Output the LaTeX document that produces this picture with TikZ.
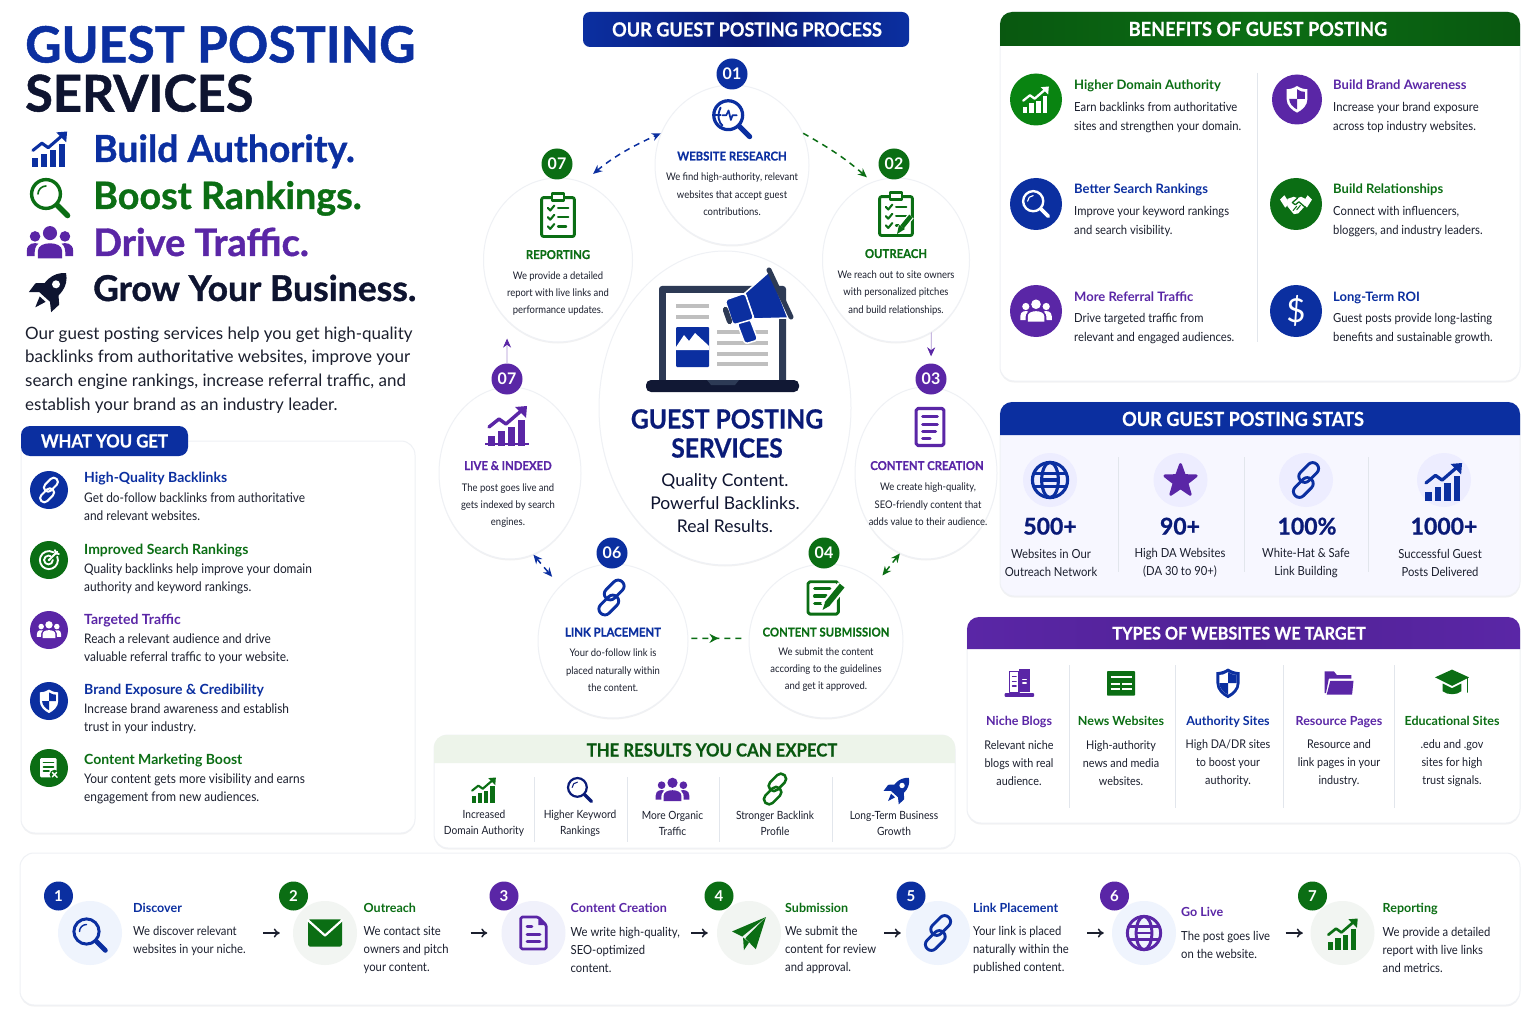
\documentclass[tikz,border=0pt]{standalone}
\usepackage{fontspec}
\setmainfont{Lato}
\newfontfamily\gpnarrow[FakeStretch=0.9]{Lato}
\newfontfamily\gpheavy[BoldFeatures={FakeBold=1}]{Lato}
\newfontfamily\gpbar[FakeStretch=0.93, BoldFeatures={FakeStretch=0.93, FakeBold=0.6}]{Lato}
\usetikzlibrary{arrows.meta, shapes.geometric, decorations.markings, shadows}

\definecolor{gpblue}{HTML}{0B2FA0}
\definecolor{gpnavy}{HTML}{0A1B78}
\definecolor{gpgreen}{HTML}{0B6E14}
\definecolor{gppurple}{HTML}{5A26A6}
\definecolor{gpdark}{HTML}{0E1430}
\definecolor{gptext}{HTML}{1B1F2E}
\definecolor{gpedge}{HTML}{EFF1F5}
\definecolor{gprule}{HTML}{E2E6EC}
\definecolor{gpslate}{HTML}{2D3A55}
\definecolor{gpmint}{HTML}{EDF4EA}
\definecolor{gpdiscblue}{HTML}{EFF4FD}
\definecolor{gpdiscgreen}{HTML}{F2F5F2}
\definecolor{gpdiscpurple}{HTML}{F0F1FB}

\newcommand{\fsz}[2]{\fontsize{#1}{#2}\selectfont}

\tikzset{
    every node/.style = {inner sep = 0pt},
    softshadow/.style = {drop shadow = {shadow xshift = 0pt, shadow yshift = -1.5pt, opacity = 0.05, fill = black}},
    cardbox/.style = {rectangle, draw = gpedge, fill = white, line width = 1pt, rounded corners = 14pt, softshadow},
    bubble/.style = {ellipse, draw = gpedge, fill = white, line width = 1pt, softshadow},
    roundicon/.style = {circle, fill = #1},
    badge/.style = {circle, fill = #1, minimum size = 31pt, text = white, font = \bfseries\fsz{16}{18}},
    headtext/.style = {text = white, font = \gpbar\bfseries\fsz{19.5}{22}, text height = 14pt, text depth = 0pt},
    bubbletitle/.style = {text = #1, font = \gpbar\bfseries\fsz{12.2}{14}, text height = 9pt, text depth = 0pt},
    bubbletext/.style = {text = gptext, font = \gpnarrow\fsz{10.5}{17.4}, align = center, yshift = -0.5pt},
    rowtitle/.style = {anchor = west, text = #1, font = \bfseries\fsz{14}{16}, text height = 10pt, text depth = 0pt},
    rowtext/.style = {anchor = west, text = gptext, font = \gpnarrow\fsz{13.2}{18}, align = left},
    sidetitle/.style = {anchor = west, text = #1, font = \bfseries\fsz{13}{16}, text height = 10pt, text depth = 0pt, yshift = -1pt},
    sidetext/.style = {anchor = west, text = gptext, font = \gpnarrow\fsz{12.5}{19}, align = left, yshift = -1pt},
    statnum/.style = {text = gpnavy, font = \gpheavy\bfseries\fsz{23}{26}, text height = 17pt, text depth = 0pt},
    stattext/.style = {text = gptext, font = \gpnarrow\fsz{12.5}{17.5}, align = center, yshift = -1pt},
    typetitle/.style = {text = #1, font = \bfseries\fsz{12.5}{14}, text height = 9pt, text depth = 0pt},
    typetext/.style = {text = gptext, font = \gpnarrow\fsz{12}{18}, align = center, yshift = -0.5pt},
    resulttext/.style = {text = gptext, font = \gpnarrow\fsz{11.3}{15.5}, align = center, yshift = -1pt},
    steptitle/.style = {anchor = west, text = #1, font = \bfseries\fsz{12.5}{14}, text height = 9pt, text depth = 0pt},
    steptext/.style = {anchor = west, text = gptext, font = \gpnarrow\fsz{12.5}{18}, align = left, yshift = -1pt},
    stepdisc/.style = {circle, fill = #1, minimum size = 64pt},
    stepbadge/.style = {circle, fill = #1, minimum size = 29pt, text = white, font = \bfseries\fsz{15}{17}},
    steparrow/.style = {-{To[length = 6pt, width = 9pt]}, line width = 1.5pt, color = gptext},
    dashline/.style = {line width = 1.5pt, dash pattern = on 6pt off 5pt},
    flowline/.style = {dashline, color = #1, -{Stealth[length = 9pt, width = 8pt]}},
    bothline/.style = {dashline, color = #1, {Stealth[length = 9pt, width = 8pt]}-{Stealth[length = 9pt, width = 8pt]}},
    thinflow/.style = {color = gppurple!50, line width = 0.7pt, -{Stealth[length = 9pt, width = 8pt, color = gppurple]}},
    icon/.style n args = {4}{shift = {(#1, #2)}, x = #3pt, y = -#3pt, color = #4, line cap = round, line join = round, line width = #3*1.7pt},
    rulerline/.style = {color = gprule, line width = 0.8pt}
}

% icons: x, y, size, colour
\newcommand{\iconchart}[4]{
    \begin{scope}[icon = {#1}{#2}{#3}{#4}]
        \fill (-10, 5) rectangle (-6.5, 10);
        \fill (-5, 2.5) rectangle (-1.5, 10);
        \fill (0, 0.5) rectangle (3.5, 10);
        \fill (5, -3) rectangle (8.5, 10);
        \draw (-9.5, 0.5) -- (-4.5, -3.5) -- (-1, -1) -- (6.5, -7.5);
        \fill (9.5, -10) -- (3.5, -9.5) -- (9, -4) -- cycle;
    \end{scope}
}
\newcommand{\iconsearch}[4]{
    \begin{scope}[icon = {#1}{#2}{#3}{#4}]
        \draw (-2, -2) circle (7.2);
        \draw[line width = #3*2.7pt] (3.6, 3.6) -- (8.8, 8.8);
        \draw[line width = #3*0.8pt] (-6, -2) arc (180:270:4);
    \end{scope}
}
\newcommand{\iconpeople}[4]{
    \begin{scope}[icon = {#1}{#2}{#3}{#4}]
        \fill (0, -4.5) circle (3.2);
        \fill (-6.8, -3) circle (2.4);
        \fill (6.8, -3) circle (2.4);
        \fill (-5.5, 7) -- (-5.5, 3.5) .. controls (-5.5, -1) and (5.5, -1) .. (5.5, 3.5) -- (5.5, 7) -- cycle;
        \fill (-10.5, 6) -- (-10.5, 3.5) .. controls (-10.5, 0) and (-7, -0.3) .. (-5.3, 0.3) .. controls (-6.8, 1.5) and (-7, 3) .. (-7, 6) -- cycle;
        \fill (10.5, 6) -- (10.5, 3.5) .. controls (10.5, 0) and (7, -0.3) .. (5.3, 0.3) .. controls (6.8, 1.5) and (7, 3) .. (7, 6) -- cycle;
    \end{scope}
}
\newcommand{\iconrocket}[5]{
    \begin{scope}[icon = {#1}{#2}{#3}{#4}, rotate = -42]
        \fill (0, -12) .. controls (5.5, -8) and (5.5, -1) .. (3.4, 4) -- (-3.4, 4) .. controls (-5.5, -1) and (-5.5, -8) .. (0, -12) -- cycle;
        \fill (-3.8, -2) -- (-8, 2) -- (-7.5, 7.5) -- (-3, 3.5) -- cycle;
        \fill (3.8, -2) -- (8, 2) -- (7.5, 7.5) -- (3, 3.5) -- cycle;
        \fill (-2, 5.5) -- (2, 5.5) -- (0, 11) -- cycle;
        \fill[#5] (0, -4.5) circle (2);
    \end{scope}
}
\newcommand{\iconlink}[4]{
    \begin{scope}[icon = {#1}{#2}{#3}{#4}, rotate = 45]
        \draw[rounded corners = #3*3.4pt] (-11, -1.5) rectangle (2.5, 5.5);
        \draw[rounded corners = #3*3.4pt] (-2.5, -5.5) rectangle (11, 1.5);
    \end{scope}
}
\newcommand{\iconshield}[6]{
    \begin{scope}[icon = {#1}{#2}{#3}{#4}]
        \fill (0, -10) .. controls (3, -8) and (6, -7.5) .. (8, -7.5) -- (8, 0) .. controls (8, 5) and (4, 8.5) .. (0, 10.5) .. controls (-4, 8.5) and (-8, 5) .. (-8, 0) -- (-8, -7.5) .. controls (-6, -7.5) and (-3, -8) .. (0, -10) -- cycle;
        \fill[#5] (0, -7.5) .. controls (2, -6) and (4, -5.5) .. (6, -5.5) -- (6, 0) .. controls (6, 3.5) and (3, 6.5) .. (0, 8) .. controls (-3, 6.5) and (-6, 3.5) .. (-6, 0) -- (-6, -5.5) .. controls (-4, -5.5) and (-2, -6) .. (0, -7.5) -- cycle;
        \fill[#6] (0, -7.5) .. controls (2, -6) and (4, -5.5) .. (6, -5.5) -- (6, 0) -- (0, 0) -- cycle;
        \fill[#6] (0, 0) -- (-6, 0) .. controls (-6, 3.5) and (-3, 6.5) .. (0, 8) -- cycle;
    \end{scope}
}
\newcommand{\iconpage}[4]{
    \begin{scope}[icon = {#1}{#2}{#3}{#4}]
        \draw[rounded corners = #3*1pt] (-7.5, -10) rectangle (7.5, 10);
        \draw (-4, -5.5) -- (4, -5.5);
        \draw (-4, -1.5) -- (4, -1.5);
        \draw (-4, 2.5) -- (3, 2.5);
        \draw (-4, 6) -- (0, 6);
    \end{scope}
}
\newcommand{\iconfold}[4]{
    \begin{scope}[icon = {#1}{#2}{#3}{#4}]
        \draw[rounded corners = #3*1pt] (-8, -10) -- (3, -10) -- (8, -5) -- (8, 10) -- (-8, 10) -- cycle;
        \fill (3, -10) -- (8, -5) -- (3, -5) -- cycle;
        \draw (-4, -4) -- (-1, -4);
        \draw[line width = #3*2pt] (-4, 1) -- (4, 1);
        \draw[line width = #3*2pt] (-4, 5.5) -- (4, 5.5);
    \end{scope}
}
\newcommand{\iconglobe}[4]{
    \begin{scope}[icon = {#1}{#2}{#3}{#4}]
        \draw (0, 0) circle (9.5);
        \draw (0, 0) ellipse (4.5 and 9.5);
        \draw (-8.5, -3.7) -- (8.5, -3.7);
        \draw (-8.5, 3.7) -- (8.5, 3.7);
        \draw (-4.2, 0) -- (4.2, 0);
    \end{scope}
}
\newcommand{\iconstar}[4]{
    \begin{scope}[icon = {#1}{#2}{#3}{#4}]
        \filldraw (0, -10) -- (2.4, -3.3) -- (9.5, -3.1) -- (3.9, 1.3) -- (5.9, 8.1) -- (0, 4.1) -- (-5.9, 8.1) -- (-3.9, 1.3) -- (-9.5, -3.1) -- (-2.4, -3.3) -- cycle;
    \end{scope}
}
\newcommand{\iconclip}[4]{
    \begin{scope}[icon = {#1}{#2}{#3}{#4}]
        \draw[rounded corners = #3*1pt, line width = #3*1.4pt] (-8, -8.5) rectangle (8, 10.5);
        \filldraw[fill = white, line width = #3*1.2pt] (-3, -10.5) rectangle (3, -7);
        \draw[line width = #3*1pt] (-5, -3.5) -- (-3.8, -2.2) -- (-1.8, -4.6);
        \draw[line width = #3*1pt] (-5, 1) -- (-3.8, 2.3) -- (-1.8, -0.1);
        \draw[line width = #3*1pt] (-5, 5.5) -- (-3.8, 6.8) -- (-1.8, 4.4);
        \draw[line width = #3*1pt] (0, -3.4) -- (5, -3.4);
        \draw[line width = #3*1pt] (0, 1.1) -- (5, 1.1);
        \draw[line width = #3*1pt] (0, 5.6) -- (4, 5.6);
    \end{scope}
}
\newcommand{\iconedit}[4]{
    \begin{scope}[icon = {#1}{#2}{#3}{#4}]
        \draw[rounded corners = #3*1pt, line width = #3*1.5pt] (-9.5, -8) rectangle (6.5, 9);
        \draw (-6, -4.5) -- (2, -4.5);
        \draw (-6, -0.5) -- (0, -0.5);
        \draw (-6, 3.5) -- (-2.5, 3.5);
        \draw[white, line width = #3*5.5pt, line cap = butt] (-0.5, 5) -- (8.5, -6);
        \draw[line width = #3*3.2pt, line cap = butt] (0.5, 3.8) -- (8.5, -6);
        \fill (-1.8, 6.8) -- (-0.4, 2.6) -- (2, 4.6) -- cycle;
    \end{scope}
}
\newcommand{\iconresearch}[4]{
    \begin{scope}[icon = {#1}{#2}{#3}{#4}]
        \draw (-2, -2) circle (7.6);
        \draw[line width = #3*2.7pt] (4, 4) -- (9.3, 9.3);
        \draw[line width = #3*1pt] (-6, -6) .. controls (-8, -2) and (-7, 2) .. (-5, 3.5);
        \draw[line width = #3*1pt] (-9, -2) -- (-6, -2);
        \draw[line width = #3*0.9pt] (-5, -2) -- (-3, -2) -- (-1.8, -4.5) -- (-0.6, 0.5) -- (0.3, -2) -- (2.5, -2);
    \end{scope}
}
\newcommand{\iconmail}[5]{
    \begin{scope}[icon = {#1}{#2}{#3}{#4}]
        \fill[rounded corners = #3*1pt] (-10, -8) rectangle (10, 8);
        \draw[#5, line width = #3*1.3pt] (-10, -7.5) -- (0, 1.5) -- (10, -7.5);
    \end{scope}
}
\newcommand{\iconplane}[4]{
    \begin{scope}[icon = {#1}{#2}{#3}{#4}]
        \fill (10, -10) -- (-10, -1.5) -- (-4, 1.5) -- cycle;
        \fill (10, -10) -- (-2.2, 2.5) -- (4, 9) -- cycle;
        \fill (-3.5, 2) -- (-3, 9.5) -- (0, 5) -- cycle;
    \end{scope}
}
\newcommand{\icontarget}[4]{
    \begin{scope}[icon = {#1}{#2}{#3}{#4}]
        \draw (7.5, -3) arc (338:660:8.2);
        \draw (3.5, 0) arc (0:300:4);
        \fill (0, 0) circle (1.2);
        \draw (0, 0) -- (7.5, -7.5);
        \draw (5.5, -9) -- (6, -6) -- (9, -5.5);
    \end{scope}
}
\newcommand{\icondocmark}[5]{
    \begin{scope}[icon = {#1}{#2}{#3}{#4}]
        \fill[rounded corners = #3*1pt] (-8, -9) rectangle (7, 8.5);
        \draw[#5] (-5, -5) -- (4, -5);
        \draw[#5] (-5, -1) -- (4, -1);
        \draw[#5] (-5, 3) -- (0, 3);
        \fill[#5] (5, 6) circle (4.4);
        \draw[line width = #3*1.2pt] (3, 4) -- (7.5, 8.5);
        \draw[line width = #3*1.2pt] (7, 4) -- (3, 8);
    \end{scope}
}
\newcommand{\iconshake}[5]{
    \begin{scope}[icon = {#1}{#2}{#3}{#4}]
        \fill (-11, -3) -- (-8, -6) -- (-4.5, -0.5) -- (-7.5, 2.5) -- cycle;
        \fill (11, -3) -- (8, -6) -- (4.5, -0.5) -- (7.5, 2.5) -- cycle;
        \fill (-6, -3.5) -- (-1.5, -5) -- (1, -4) -- (3.5, -5) -- (6.5, -3.5) -- (7, 0.5) -- (1.5, 6.5) -- (-1.5, 7) -- (-6, 1.5) -- cycle;
        \draw[#5, line width = #3*0.9pt] (1, -4) -- (-2.5, -1) -- (-0.5, 0.5) -- (2, -1.5) -- (6, 2);
        \draw[#5, line width = #3*0.7pt] (3, 1) -- (0.5, 4);
        \draw[#5, line width = #3*0.7pt] (0.5, 1.5) -- (-2, 4.5);
    \end{scope}
}
\newcommand{\iconbook}[4]{
    \begin{scope}[icon = {#1}{#2}{#3}{#4}]
        \fill[rounded corners = #3*0.6pt] (-10, 7) rectangle (10.5, 9.5);
        \draw[line width = #3*1.1pt] (-6.5, -8) rectangle (0, 6.5);
        \fill (0, -9.5) rectangle (7.5, 6.5);
        \draw[line width = #3*1pt] (-4.5, -4.5) -- (-2, -4.5);
        \draw[line width = #3*1pt] (-4.5, -1.2) -- (-2, -1.2);
        \draw[line width = #3*1pt] (-4.5, 2) -- (-2, 2);
        \draw[white, line width = #3*0.7pt] (2.5, -2.5) -- (5, -2.5);
        \draw[white, line width = #3*0.7pt] (2.5, 0) -- (5, 0);
    \end{scope}
}
\newcommand{\iconnews}[4]{
    \begin{scope}[icon = {#1}{#2}{#3}{#4}]
        \fill[rounded corners = #3*0.6pt] (-10, -8.5) rectangle (10, 9);
        \draw[white, line width = #3*1.3pt, line cap = butt] (-7.5, -4.5) -- (7.5, -4.5);
        \draw[white, line width = #3*1.3pt, line cap = butt] (-7.5, 0.5) -- (-1, 0.5);
        \draw[white, line width = #3*1.3pt, line cap = butt] (-7.5, 4.5) -- (-1, 4.5);
        \draw[white, line width = #3*1.3pt, line cap = butt] (1, 0.5) -- (7.5, 0.5);
        \draw[white, line width = #3*1.3pt, line cap = butt] (1, 4.5) -- (7.5, 4.5);
    \end{scope}
}
\newcommand{\iconfolder}[4]{
    \begin{scope}[icon = {#1}{#2}{#3}{#4}]
        \fill (-10, 7) -- (-10, -8) -- (-3.5, -8) -- (-1.5, -5.5) -- (8.5, -5.5) -- (8.5, -3) -- (-7, -3) -- (-9, 7) -- cycle;
        \fill (-6, -1.5) -- (10, -1.5) -- (9, 8) -- (-8.5, 8) -- cycle;
    \end{scope}
}
\newcommand{\icongrad}[4]{
    \begin{scope}[icon = {#1}{#2}{#3}{#4}]
        \fill (-11, -3) -- (0, -8) -- (11, -3) -- (0, 2.5) -- cycle;
        \fill (-6, 1) -- (0, 4) -- (6, 1) -- (6, 6) .. controls (3, 8.5) and (-3, 8.5) .. (-6, 6) -- cycle;
        \draw[line width = #3*0.9pt] (10, -2.5) -- (10, 6.5);
    \end{scope}
}

\begin{document}
\begin{tikzpicture}[x = 1pt, y = -1pt]
    \useasboundingbox (0, 0) rectangle (1536, 1024);
    \fill[white] (0, 0) rectangle (1536, 1024);

    % title column
    \node (maintitle) [anchor = base west, text = gpblue, font = \gpheavy\bfseries\fsz{50}{52}] at (25, 62.5) {GUEST POSTING};
    \node (subtitle) [anchor = base west, text = gpdark, font = \gpheavy\bfseries\fsz{50.5}{52}] at (25, 111.5) {SERVICES};
    \iconchart{50}{149.5}{1.8}{gpblue}
    \iconsearch{50}{198}{2}{gpgreen}
    \iconpeople{50}{243}{2.2}{gppurple}
    \iconrocket{50}{291}{2}{gpdark}{white}
    \node (taga) [anchor = base west, text = gpblue, font = \gpheavy\bfseries\fsz{37.3}{40}] at (93, 162) {Build Authority.};
    \node (tagb) [anchor = base west, text = gpgreen, font = \gpheavy\bfseries\fsz{37.7}{40}] at (93, 209) {Boost Rankings.};
    \node (tagc) [anchor = base west, text = gppurple, font = \gpheavy\bfseries\fsz{38}{40}] at (93, 256) {Drive Traffic.};
    \node (tagd) [anchor = base west, text = gpdark, font = \gpheavy\bfseries\fsz{35.5}{40}] at (93, 301) {Grow Your Business.};
    \node (intro) [anchor = west, align = left, text = gptext, font = \fsz{17}{23.7}] at (25, 370) {Our guest posting services help you get high-quality\\backlinks from authoritative websites, improve your\\search engine rankings, increase referral traffic, and\\establish your brand as an industry leader.};

    % what you get
    \node (getcard) [cardbox, minimum width = 394pt, minimum height = 392pt] at (218, 637) {};
    \node (getpill) [rectangle, rounded corners = 9pt, fill = gpblue, minimum width = 167pt, minimum height = 30pt, text = white, font = \gpbar\bfseries\fsz{18}{20}] at (104.5, 441) {WHAT YOU GET};

    \node (geta) [roundicon = gpblue, minimum size = 38pt] at (49, 490) {};
    \iconlink{49}{490}{1.2}{white}
    \node (getatitle) [rowtitle = gpblue] at (84, 477) {High-Quality Backlinks};
    \node (getatext) [rowtext] at (84, 506.5) {Get do-follow backlinks from authoritative\\and relevant websites.};

    \node (getb) [roundicon = gpgreen, minimum size = 38pt] at (49, 560) {};
    \icontarget{49}{560}{1.1}{white}
    \node (getbtitle) [rowtitle = gpgreen] at (84, 549) {Improved Search Rankings};
    \node (getbtext) [rowtext] at (84, 578.5) {Quality backlinks help improve your domain\\authority and keyword rankings.};

    \node (getc) [roundicon = gppurple, minimum size = 38pt] at (49, 630) {};
    \iconpeople{49}{630}{1.15}{white}
    \node (getctitle) [rowtitle = gppurple] at (84, 619) {Targeted Traffic};
    \node (getctext) [rowtext] at (84, 648.5) {Reach a relevant audience and drive\\valuable referral traffic to your website.};

    \node (getd) [roundicon = gpblue, minimum size = 38pt] at (49, 701) {};
    \iconshield{49}{701}{1.15}{white}{white}{gpblue}
    \node (getdtitle) [rowtitle = gpblue] at (84, 689) {Brand Exposure \& Credibility};
    \node (getdtext) [rowtext] at (84, 718.5) {Increase brand awareness and establish\\trust in your industry.};

    \node (gete) [roundicon = gpgreen, minimum size = 38pt] at (49, 768) {};
    \icondocmark{49}{768}{1.1}{white}{gpgreen}
    \node (getetitle) [rowtitle = gpgreen] at (84, 759) {Content Marketing Boost};
    \node (getetext) [rowtext] at (84, 788.5) {Your content gets more visibility and earns\\engagement from new audiences.};

    % process
    \shade[left color = gpblue, right color = gpblue, middle color = gpnavy, rounded corners = 7pt] (583, 12) rectangle (909, 47);
    \node (processhead) [headtext] at (747, 29.5) {OUR GUEST POSTING PROCESS};

    \node (hub) [bubble, minimum width = 252pt, minimum height = 314pt] at (725, 408) {};
    \node (research) [bubble, minimum width = 154pt, minimum height = 160pt] at (732, 165) {};
    \node (reporting) [bubble, minimum width = 149pt, minimum height = 164pt] at (558, 260) {};
    \node (outreach) [bubble, minimum width = 147pt, minimum height = 164pt] at (896, 260) {};
    \node (indexed) [bubble, minimum width = 142pt, minimum height = 172pt] at (510, 473) {};
    \node (creation) [bubble, minimum width = 142pt, minimum height = 172pt] at (926, 473) {};
    \node (placement) [bubble, minimum width = 150pt, minimum height = 154pt] at (613, 641) {};
    \node (submission) [bubble, minimum width = 154pt, minimum height = 154pt] at (826, 641) {};

    % laptop and megaphone
    \fill[gpslate, rounded corners = 3pt] (659, 286) rectangle (786, 384);
    \fill[white] (666, 293) rectangle (779, 380);
    \fill[gpdark!90!gpslate, rounded corners = 5pt] (646, 380) rectangle (799, 392);
    \fill[gpslate] (707, 380) -- (739, 380) -- (735, 385) -- (711, 385) -- cycle;
    \fill[black!25] (676, 304) rectangle (709, 308);
    \fill[black!25] (676, 315) rectangle (709, 319);
    \fill[gpblue, rounded corners = 1pt] (676, 327) rectangle (709, 367);
    \fill[white] (676, 350) -- (676, 347) -- (684, 335) -- (689, 341) -- (695, 333) -- (709, 346) -- (709, 350) -- cycle;
    \fill[black!25] (717, 330) rectangle (768, 334);
    \fill[black!25] (717, 341) rectangle (768, 345);
    \fill[black!25] (717, 352) rectangle (768, 356);
    \fill[black!25] (717, 362) rectangle (768, 366);
    \filldraw[fill = gpblue, draw = white, line width = 1.5pt, rounded corners = 3pt] (737, 323) -- (750, 319) -- (758, 340) -- (745, 344) -- cycle;
    \filldraw[fill = gpblue, draw = white, line width = 1.5pt] (745, 293) -- (770, 271) -- (788, 318) -- (754, 319) -- cycle;
    \filldraw[fill = gpblue, draw = white, line width = 1.5pt, rounded corners = 3pt] (725, 300) -- (745, 293) -- (754, 319) -- (733, 325) -- cycle;
    \fill[gpslate, rounded corners = 3pt] (722, 308) -- (727, 306) -- (733, 323) -- (728, 325) -- cycle;
    \draw[gpslate, line width = 5pt, line cap = round] (769, 270) -- (791, 317);

    \node (hubtitle) [text = gpnavy, align = center, font = \gpbar\bfseries\fsz{26.5}{29}] at (727, 433.5) {GUEST POSTING\\SERVICES};
    \node (hubtext) [text = gpdark, align = center, font = \fsz{17.5}{23}] at (725, 503) {Quality Content.\\Powerful Backlinks.\\Real Results.};

    \iconresearch{732}{119}{1.9}{gpblue}
    \node (researchtitle) [bubbletitle = gpblue] at (732, 156) {WEBSITE RESEARCH};
    \node (researchtext) [bubbletext] at (732, 194) {We find high-authority, relevant\\websites that accept guest\\contributions.};

    \iconclip{558}{215}{2.05}{gpgreen}
    \node (reportingtitle) [bubbletitle = gpgreen] at (558, 254.5) {REPORTING};
    \node (reportingtext) [bubbletext] at (558, 293) {We provide a detailed\\report with live links and\\performance updates.};

    \iconclip{896}{214}{2.05}{gpgreen}
    \draw[white, line width = 7pt] (900, 229) -- (911, 216);
    \draw[gpgreen, line width = 4.5pt] (902, 227) -- (911, 216);
    \fill[gpgreen] (897, 234) -- (899, 225) -- (905, 229) -- cycle;
    \node (outreachtitle) [bubbletitle = gpgreen] at (896, 253.5) {OUTREACH};
    \node (outreachtext) [bubbletext] at (896, 292.5) {We reach out to site owners\\with personalized pitches\\and build relationships.};

    \iconchart{508}{426}{2}{gppurple}
    \fill[gppurple] (485, 443) rectangle (529, 445);
    \node (indexedtitle) [bubbletitle = gppurple] at (508, 465.5) {LIVE \& INDEXED};
    \node (indexedtext) [bubbletext] at (508, 505) {The post goes live and\\gets indexed by search\\engines.};

    \iconpage{930}{427}{1.85}{gppurple}
    \node (creationtitle) [bubbletitle = gppurple] at (927, 465.5) {CONTENT CREATION};
    \node (creationtext) [bubbletext] at (928, 504) {We create high-quality,\\SEO-friendly content that\\adds value to their audience.};

    \iconlink{611.5}{597.5}{1.7}{gpblue}
    \node (placementtitle) [bubbletitle = gpblue] at (613, 632) {LINK PLACEMENT};
    \node (placementtext) [bubbletext] at (613, 670) {Your do-follow link is\\placed naturally within\\the content.};

    \iconedit{826}{597}{1.9}{gpgreen}
    \node (submissiontitle) [bubbletitle = gpgreen] at (826, 632) {CONTENT SUBMISSION};
    \node (submissiontext) [bubbletext] at (826, 669) {We submit the content\\according to the guidelines\\and get it approved.};

    \node (badgea) [badge = gpblue] at (732, 74) {01};
    \node (badgeb) [badge = gpgreen] at (894, 164) {02};
    \node (badgec) [badge = gppurple] at (931, 379) {03};
    \node (badged) [badge = gpgreen] at (824, 553) {04};
    \node (badgef) [badge = gpblue] at (612, 553) {06};
    \node (badgeg) [badge = gppurple] at (507, 379) {07};
    \node (badgeh) [badge = gpgreen] at (557, 164) {07};

    \draw[bothline = gpblue, shorten < = 13pt] (reporting.72) to[bend left = 8] (research.156);
    \draw[flowline = gpgreen, shorten > = 7pt] (research.24) to[bend left = 6] (outreach.107);
    \draw[thinflow, shorten > = 18pt] (badgeg.north) -- (reporting.230);
    \draw[thinflow, shorten > = 7pt] (outreach.296) -- (badgec.north);
    \draw[bothline = gpblue, shorten > = 12pt] (indexed.286) -- (placement.134);
    \draw[bothline = gpgreen, shorten > = 9pt] (creation.252) -- (submission.49);
    \draw[dashline, gpgreen, shorten < = 3pt, shorten > = 3pt, postaction = {decorate}, decoration = {markings, mark = at position 0.5 with {\arrow{Stealth[length = 9pt, width = 9pt]}}}] (placement.2) -- (submission.178);

    % results
    \node (resultcard) [cardbox, minimum width = 521pt, minimum height = 113pt] at (694.5, 791.5) {};
    \fill[gpmint] (434, 763) -- (434, 747) arc (180:270:12) -- (943, 735) arc (270:360:12) -- (955, 763) -- cycle;
    \node (resulthead) [text = gpgreen!80!black, font = \gpbar\bfseries\fsz{18}{20}, text height = 13pt, text depth = 0pt] at (712, 750) {THE RESULTS YOU CAN EXPECT};
    \draw[rulerline] (534, 777) -- (534, 842);
    \draw[rulerline] (627, 777) -- (627, 842);
    \draw[rulerline] (719, 777) -- (719, 842);
    \draw[rulerline] (832, 777) -- (832, 842);
    \iconchart{484}{790}{1.25}{gpgreen}
    \iconsearch{580}{790}{1.3}{gpnavy}
    \iconpeople{672.5}{790}{1.6}{gppurple}
    \iconlink{775}{789}{1.5}{gpgreen}
    \iconrocket{898}{790}{1.35}{gpblue}{white}
    \node (resulta) [resulttext] at (484, 822.5) {Increased\\Domain Authority};
    \node (resultb) [resulttext] at (580, 822.5) {Higher Keyword\\Rankings};
    \node (resultc) [resulttext] at (672.5, 822.5) {More Organic\\Traffic};
    \node (resultd) [resulttext] at (775, 822.5) {Stronger Backlink\\Profile};
    \node (resulte) [resulttext] at (894, 822.5) {Long-Term Business\\Growth};

    % benefits
    \node (benefitcard) [cardbox, minimum width = 520pt, minimum height = 369pt] at (1260, 196.5) {};
    \shade[left color = gpgreen!80!black, right color = gpgreen!80!black, middle color = gpgreen] (1000, 46) -- (1000, 24) arc (180:270:12) -- (1508, 12) arc (270:360:12) -- (1520, 46) -- cycle;
    \node (benefithead) [headtext] at (1258, 29) {BENEFITS OF GUEST POSTING};
    \draw[rulerline] (1257, 73) -- (1257, 342);

    \node (benefita) [roundicon = gpgreen!85!green, minimum size = 52pt] at (1036, 99.5) {};
    \iconchart{1036}{100}{1.35}{white}
    \node (benefitatitle) [sidetitle = gpgreen] at (1074, 84) {Higher Domain Authority};
    \node (benefitatext) [sidetext] at (1074, 116.5) {Earn backlinks from authoritative\\sites and strengthen your domain.};

    \node (benefitb) [roundicon = gpblue, minimum size = 52pt] at (1036, 204) {};
    \iconsearch{1036}{204}{1.4}{white}
    \node (benefitbtitle) [sidetitle = gpblue] at (1074, 188) {Better Search Rankings};
    \node (benefitbtext) [sidetext] at (1074, 220.5) {Improve your keyword rankings\\and search visibility.};

    \node (benefitc) [roundicon = gppurple, minimum size = 52pt] at (1036, 311) {};
    \iconpeople{1036}{311}{1.5}{white}
    \node (benefitctitle) [sidetitle = gppurple] at (1074, 295.5) {More Referral Traffic};
    \node (benefitctext) [sidetext] at (1074, 327.5) {Drive targeted traffic from\\relevant and engaged audiences.};

    \node (benefitd) [roundicon = gppurple, minimum size = 50pt] at (1297, 99.5) {};
    \iconshield{1297}{99}{1.3}{white}{white}{gppurple}
    \node (benefitdtitle) [sidetitle = gppurple] at (1333, 84) {Build Brand Awareness};
    \node (benefitdtext) [sidetext] at (1333, 116.5) {Increase your brand exposure\\across top industry websites.};

    \node (benefite) [roundicon = gpgreen, minimum size = 52pt] at (1296, 204) {};
    \iconshake{1296}{204}{1.45}{white}{gpgreen}
    \node (benefitetitle) [sidetitle = gpgreen] at (1333, 188) {Build Relationships};
    \node (benefitetext) [sidetext] at (1333, 220.5) {Connect with influencers,\\bloggers, and industry leaders.};

    \node (benefitf) [roundicon = gpblue, minimum size = 52pt, text = white, font = \fsz{33}{35}] at (1296, 311) {\$};
    \node (benefitftitle) [sidetitle = gpblue] at (1333, 295.5) {Long-Term ROI};
    \node (benefitftext) [sidetext] at (1333, 328) {Guest posts provide long-lasting\\benefits and sustainable growth.};

    % stats
    \node (statcard) [cardbox, fill = blue!3, minimum width = 520pt, minimum height = 194pt] at (1260, 499) {};
    \fill[gpblue] (1000, 435) -- (1000, 414) arc (180:270:12) -- (1508, 402) arc (270:360:12) -- (1520, 435) -- cycle;
    \node (stathead) [headtext] at (1243, 419) {OUR GUEST POSTING STATS};
    \draw[rulerline] (1118, 457) -- (1118, 572);
    \draw[rulerline] (1244, 457) -- (1244, 572);
    \draw[rulerline] (1368, 457) -- (1368, 572);
    \node (statdisca) [circle, fill = blue!7, minimum size = 54pt] at (1050, 480) {};
    \node (statdiscb) [circle, fill = blue!7, minimum size = 54pt] at (1180.5, 480) {};
    \node (statdiscc) [circle, fill = blue!7, minimum size = 54pt] at (1306, 480) {};
    \node (statdiscd) [circle, fill = blue!7, minimum size = 54pt] at (1444, 480) {};
    \iconglobe{1050}{480}{1.85}{gpblue}
    \iconstar{1180.5}{481}{1.65}{gppurple}
    \iconlink{1306}{480}{1.7}{gpblue}
    \iconchart{1444}{482}{1.9}{gpblue}
    \node (statnuma) [statnum] at (1050, 526) {500+};
    \node (statnumb) [statnum] at (1180, 526) {90+};
    \node (statnumc) [statnum] at (1307, 526) {100\%};
    \node (statnumd) [statnum] at (1444, 526) {1000+};
    \node (stattexta) [stattext] at (1051, 562) {Websites in Our\\Outreach Network};
    \node (stattextb) [stattext] at (1180, 562) {High DA Websites\\(DA 30 to 90+)};
    \node (stattextc) [stattext] at (1306, 562) {White-Hat \& Safe\\Link Building};
    \node (stattextd) [stattext] at (1440, 562) {Successful Guest\\Posts Delivered};

    % types
    \node (typecard) [cardbox, minimum width = 553pt, minimum height = 206pt] at (1243.5, 720) {};
    \shade[left color = gppurple, right color = gppurple, middle color = gppurple!90!black] (967, 649) -- (967, 629) arc (180:270:12) -- (1508, 617) arc (270:360:12) -- (1520, 649) -- cycle;
    \node (typehead) [headtext, font = \gpbar\bfseries\fsz{17.5}{20}, text height = 13pt] at (1239, 633) {TYPES OF WEBSITES WE TARGET};
    \draw[rulerline] (1069, 665) -- (1069, 808);
    \draw[rulerline] (1175, 665) -- (1175, 808);
    \draw[rulerline] (1283.5, 665) -- (1283.5, 808);
    \draw[rulerline] (1394, 665) -- (1394, 808);
    \iconbook{1019}{683}{1.45}{gppurple}
    \iconnews{1121}{683}{1.4}{gpgreen}
    \iconshield{1228}{683}{1.45}{gpblue}{white}{gpblue}
    \iconfolder{1339}{683}{1.45}{gppurple}
    \icongrad{1452}{682}{1.55}{gpgreen}
    \node (typeatitle) [typetitle = gppurple] at (1019, 720.5) {Niche Blogs};
    \node (typebtitle) [typetitle = gpgreen] at (1121, 720.5) {News Websites};
    \node (typectitle) [typetitle = gpblue] at (1228, 720.5) {Authority Sites};
    \node (typedtitle) [typetitle = gppurple] at (1339, 720.5) {Resource Pages};
    \node (typeetitle) [typetitle = gpgreen] at (1452, 720.5) {Educational Sites};
    \node (typeatext) [typetext] at (1019, 762.5) {Relevant niche\\blogs with real\\audience.};
    \node (typebtext) [typetext] at (1121, 762.5) {High-authority\\news and media\\websites.};
    \node (typectext) [typetext] at (1228, 762.5) {High DA/DR sites\\to boost your\\authority.};
    \node (typedtext) [typetext] at (1339, 762.5) {Resource and\\link pages in your\\industry.};
    \node (typeetext) [typetext] at (1452, 762.5) {.edu and .gov\\sites for high\\trust signals.};

    % steps
    \node (stepcard) [cardbox, minimum width = 1500pt, minimum height = 152pt] at (770, 929) {};
    \node (stepa) [stepdisc = gpdiscblue] at (90, 933) {};
    \node (stepb) [stepdisc = gpdiscgreen] at (325, 933) {};
    \node (stepc) [stepdisc = gpdiscpurple] at (533.5, 933) {};
    \node (stepd) [stepdisc = gpdiscgreen] at (749, 933) {};
    \node (stepe) [stepdisc = gpdiscblue] at (938, 933) {};
    \node (stepf) [stepdisc = gpdiscblue] at (1144, 933) {};
    \node (stepg) [stepdisc = gpdiscgreen] at (1342.5, 933) {};
    \iconsearch{90}{935}{1.75}{gpblue}
    \iconmail{325}{933}{1.7}{gpgreen}{white}
    \iconfold{533.5}{933}{1.6}{gppurple}
    \iconplane{749}{934}{1.7}{gpgreen}
    \iconlink{938}{933}{1.7}{gpblue}
    \iconglobe{1144}{933}{1.75}{gppurple}
    \iconchart{1343}{934}{1.55}{gpgreen}
    \node (stepbadgea) [stepbadge = gpblue] at (58.5, 896) {1};
    \node (stepbadgeb) [stepbadge = gpgreen] at (293.5, 896) {2};
    \node (stepbadgec) [stepbadge = gppurple] at (504, 896) {3};
    \node (stepbadged) [stepbadge = gpgreen] at (719, 896) {4};
    \node (stepbadgee) [stepbadge = gpblue] at (911, 896) {5};
    \node (stepbadgef) [stepbadge = gppurple] at (1114.5, 896) {6};
    \node (stepbadgeg) [stepbadge = gpgreen] at (1312.5, 896) {7};
    \node (stepatitle) [steptitle = gpblue] at (133, 908) {Discover};
    \node (stepatext) [steptext] at (133, 940) {We discover relevant\\websites in your niche.};
    \node (stepbtitle) [steptitle = gpgreen] at (363.5, 908) {Outreach};
    \node (stepbtext) [steptext] at (363.5, 949) {We contact site\\owners and pitch\\your content.};
    \node (stepctitle) [steptitle = gppurple] at (570.5, 908) {Content Creation};
    \node (stepctext) [steptext] at (570.5, 949) {We write high-quality,\\SEO-optimized\\content.};
    \node (stepdtitle) [steptitle = gpgreen] at (785, 908) {Submission};
    \node (stepdtext) [steptext] at (785, 949) {We submit the\\content for review\\and approval.};
    \node (stepetitle) [steptitle = gpblue] at (973, 908) {Link Placement};
    \node (stepetext) [steptext] at (973, 949) {Your link is placed\\naturally within the\\published content.};
    \node (stepftitle) [steptitle = gppurple] at (1181, 912) {Go Live};
    \node (stepftext) [steptext] at (1181, 943.5) {The post goes live\\on the website.};
    \node (stepgtitle) [steptitle = gpgreen] at (1382.5, 908) {Reporting};
    \node (stepgtext) [steptext] at (1382.5, 949) {We provide a detailed\\report with live links\\and metrics.};
    \draw[steparrow, shorten < = 141pt, shorten > = 13pt] (stepa.east) -- (stepb.west);
    \draw[steparrow, shorten < = 113.5pt, shorten > = 14pt] (stepb.east) -- (stepc.west);
    \draw[steparrow, shorten < = 125.5pt, shorten > = 9pt] (stepc.east) -- (stepd.west);
    \draw[steparrow, shorten < = 103pt, shorten > = 5pt] (stepd.east) -- (stepe.west);
    \draw[steparrow, shorten < = 117pt, shorten > = 8pt] (stepe.east) -- (stepf.west);
    \draw[steparrow, shorten < = 109.5pt, shorten > = 7.5pt] (stepf.east) -- (stepg.west);
\end{tikzpicture}
\end{document}
